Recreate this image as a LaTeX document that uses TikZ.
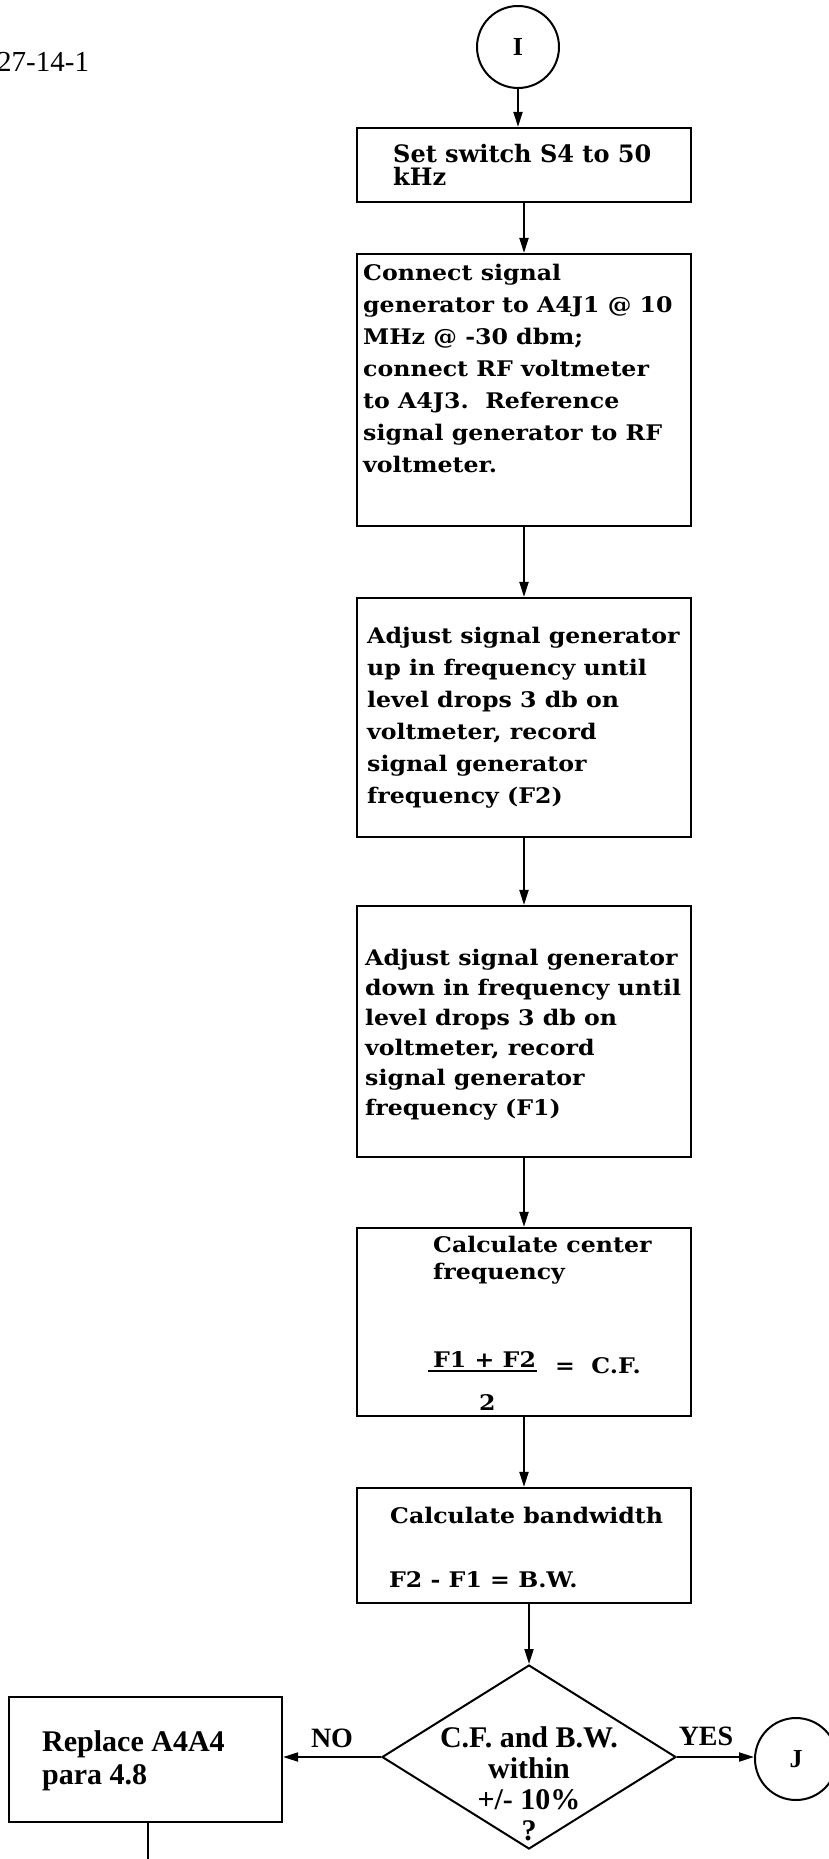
\documentclass[tikz,border=0pt]{standalone}
\usepackage{fontspec}
\setmainfont{Liberation Serif}
\newfontfamily\twA{DejaVu Serif Bold}[FakeStretch=1.0]
\newfontfamily\twB{DejaVu Serif Bold}[FakeStretch=1.1]
\usetikzlibrary{arrows.meta,shapes.geometric}
\tikzset{
  procbox/.style={draw, rectangle, line width=2.2pt, inner sep=0pt, minimum width=334pt},
  conn/.style={draw, circle, line width=2pt, inner sep=0pt, minimum size=82pt, font=\fontsize{26}{26}\selectfont\bfseries},
  arr/.style={line width=2pt, -{Triangle[length=15pt,width=9pt]}},
  plainline/.style={line width=2pt},
  twtext/.style={anchor=north west, align=left, inner sep=0pt, font=\twB\fontsize{21.5}{32}\selectfont},
  twline/.style={anchor=base west, inner sep=0pt, font=\twB\fontsize{21.5}{27}\selectfont},
  bdtext/.style={inner sep=0pt, font=\fontsize{30}{31}\selectfont\bfseries},
}
\begin{document}
\begin{tikzpicture}[x=1pt,y=-1pt]
\useasboundingbox (0,0) rectangle (828,1859);

% page reference
\node[anchor=base west, inner sep=0pt, font=\fontsize{29}{29}\selectfont] (ref) at (-3,72) {27-14-1};

% connector I
\node[conn] (cI) at (518,47) {I};

% boxes
\node[procbox, minimum height=74pt]  (b1) at (524,165) {};
\node[procbox, minimum height=272pt] (b2) at (524,390) {};
\node[procbox, minimum height=239pt] (b3) at (524,717.5) {};
\node[procbox, minimum height=251pt] (b4) at (524,1031.5) {};
\node[procbox, minimum height=188pt] (b5) at (524,1322) {};
\node[procbox, minimum height=115pt] (b6) at (524,1545.5) {};

% box texts
\node[anchor=north west, align=left, inner sep=0pt, font=\twA\fontsize{24}{23}\selectfont] (t1) at (393,144)
  {Set switch S4 to 50\\kHz};
\node[twtext] (t2) at (363,264)
  {Connect signal\\generator to A4J1 @ 10\\MHz @ -30 dbm;\\connect RF voltmeter\\to A4J3.\ \ Reference\\signal generator to RF\\voltmeter.};
\node[twtext] (t3) at (367,627)
  {Adjust signal generator\\up in frequency until\\level drops 3 db on\\voltmeter, record\\signal generator\\frequency (F2)};
\node[twtext, font=\twB\fontsize{21.5}{30}\selectfont] (t4) at (365,949)
  {Adjust signal generator\\down in frequency until\\level drops 3 db on\\voltmeter, record\\signal generator\\frequency (F1)};
\node[twtext, font=\twB\fontsize{21.5}{27}\selectfont] (t5) at (433,1236)
  {Calculate center\\frequency};
\node[twline] (num) at (433,1367) {F1 + F2};
\node[twline] (cf) at (555,1373) {=\ \ C.F.};
\node[twline] (den) at (479,1410) {2};
\draw[line width=2pt] (428,1371) -- (537,1371);
\node[twline] (t6) at (390,1523) {Calculate bandwidth};
\node[twline] (t6b) at (389,1587) {F2 - F1 = B.W.};

% decision
\node[draw, diamond, line width=2pt, inner sep=0pt, minimum width=294pt, minimum height=184pt] (dia) at (529,1757) {};
\node[bdtext, align=center, anchor=north] (dtext) at (529,1726) {C.F. and B.W.\\within\\+/- 10\%\\?};

% no branch
\node[procbox, minimum width=273pt, minimum height=125pt] (rep) at (145.5,1759.5) {};
\node[bdtext, align=left, anchor=north west, font=\fontsize{30}{33}\selectfont\bfseries] (rtext) at (42,1730) {Replace A4A4\\para 4.8};

% yes branch
\node[conn] (cJ) at (796,1759) {J};

% labels
\node[inner sep=0pt, anchor=base, font=\fontsize{28}{28}\selectfont\bfseries] (no) at (332,1747) {NO};
\node[inner sep=0pt, anchor=base, font=\fontsize{28}{28}\selectfont\bfseries] (yes) at (706,1745) {YES};

% connectors
\draw[arr] (cI.south) -- (cI.south |- b1.north);
\draw[arr] (b1) -- (b2);
\draw[arr] (b2) -- (b3);
\draw[arr] (b3) -- (b4);
\draw[arr] (b4) -- (b5);
\draw[arr] (b5) -- (b6);
\draw[arr] (b6.south -| dia.north) -- (dia.north);
\draw[arr] (dia.west) -- (dia.west -| rep.east);
\draw[arr] (dia.east) -- (dia.east -| cJ.west);
\coordinate (cont) at (148,1859);
\draw[plainline] (rep.south -| cont) -- (cont);
\end{tikzpicture}
\end{document}
